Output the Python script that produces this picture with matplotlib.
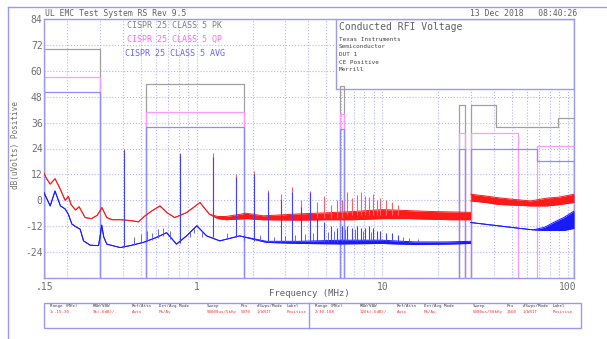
import matplotlib
matplotlib.use('Agg')
import matplotlib.pyplot as plt
from matplotlib.patches import Rectangle
from matplotlib.lines import Line2D
from matplotlib.ticker import FixedLocator, NullFormatter

plt.rcParams['font.family'] = 'DejaVu Sans Mono'

# ---- trace data (MHz, dBuV) ----
# range 1 (.15-30 MHz) peak trace, lower / upper edge of the noise band
pk1_f = [0.15, 0.155, 0.162, 0.172, 0.184, 0.195, 0.203, 0.21, 0.222, 0.232, 0.25, 0.27,
         0.29, 0.308, 0.327, 0.35, 0.39, 0.45, 0.484, 0.52, 0.57, 0.633, 0.69, 0.76, 0.88,
         0.97, 1.04, 1.17, 1.3, 1.44, 1.85, 2.28, 3.58, 5.0, 7.0, 10.0, 14.0, 18.5, 24.0, 29.9]
pk1_lo = [12.5, 10, 7.5, 10, 5, 0, 1.8, -2, -4.5, -3, -8, -8.5,
          -7, -3.4, -8, -9, -9, -9.5, -10, -7.5, -5, -2.6, -5.7, -8, -5.7,
          -3, -1, -6.5, -8.5, -9, -8.5, -9, -9.2, -9, -9, -8.5, -8.5, -8.8, -9, -9]
pk1_hi = [12.5, 10, 7.5, 10, 5, 0, 1.8, -2, -4.5, -3, -8, -8.5,
          -7, -3.4, -8, -9, -9, -9.5, -10, -7.5, -5, -2.6, -5.7, -8, -5.7,
          -3, -1, -6.5, -7.5, -7.5, -6, -7.2, -6.3, -5.8, -5.2, -4.3, -4.8, -5.2, -5.4, -5.6]

# range 1 average trace
av1_f = [0.15, 0.162, 0.172, 0.184, 0.195, 0.203, 0.212, 0.225, 0.235, 0.245, 0.266, 0.295,
         0.302, 0.307, 0.315, 0.327, 0.386, 0.437, 0.515, 0.607, 0.687, 0.777, 0.88, 1.0,
         1.13, 1.33, 1.7, 2.37, 3.58, 6.0, 10.0, 15.0, 22.0, 29.9]
av1_lo = [3.5, -2.6, 4.3, -2.6, -4, -6.5, -11, -12.5, -13.4, -18.8, -20.8, -21,
          -16, -11.5, -17, -20.3, -21.9, -21, -19.5, -17.2, -15, -20.3, -16.5, -11.8,
          -16.5, -18.8, -16.5, -19.5, -20, -20.2, -20, -20.5, -20.3, -20]
av1_hi = [3.5, -2.6, 4.3, -2.6, -4, -6.5, -11, -12.5, -13.4, -18.8, -20.8, -21,
          -16, -11.5, -17, -20.3, -21.9, -21, -19.5, -17.2, -15, -20.3, -16.5, -11.8,
          -16.5, -18.8, -16.5, -19, -19, -18.5, -18.5, -19.3, -19.3, -19]

# range 2 (30-108 MHz)
pk2_f = [30, 36, 42, 50, 63, 77, 90, 108]
pk2_lo = [-0.3, -1, -1.9, -2.2, -2.6, -2.6, -2, -1]
pk2_hi = [2.8, 2, 1.2, 0.5, -0.3, 1.0, 1.5, 2.8]
av2_f = [30, 42, 55, 65, 75, 85, 95, 108]
av2_lo = [-10.3, -11.8, -13, -13.7, -14, -14, -14, -13]
av2_hi = [-10.3, -11.8, -13, -13.7, -12.5, -10, -8, -5]

# harmonic spikes: frequency, peak top / base, average top / base
spk_f = [0.405, 0.81, 1.215, 1.62, 2.025, 2.43, 2.835, 3.24, 3.645, 4.05, 4.455, 4.86,
         5.265, 5.67, 6.075, 6.48, 6.885, 7.29, 7.695, 8.1, 8.505, 8.91, 9.315, 9.72,
         10.5, 11.3, 12.1]
spk_pk_top = [24, 22, 21.7, 12, 13.5, 5, 3, 6, 0, 4.5, -1, 2,
              -2, 0, 0, 4, 1, 2.5, 4, 2, 1.5, 3, 0, 1, 0, -1, -2]
spk_pk_base = [-9, -8, -7, -8, -8, -8, -8, -8, -8, -8, -8, -8,
               -8, -8, -8, -7, -7, -7, -7, -7, -7, -7, -7, -7, -7, -7, -7]
spk_av_top = [23.5, 21.5, 20, 11, 12, 4, 0, 4, -3, 4, -8, -10,
              -12, -13, -12, -12, -13, -12, -13, -13, -12, -13, -14, -14, -15, -15, -16]
spk_av_base = [-21.5, -20, -17, -17, -19, -19.5, -19.5, -19.5, -19.5, -19.5, -19.5, -19.5,
               -19.5, -19.5, -19.5, -19, -19, -19, -19, -19, -19, -19, -19, -19, -19, -19, -19]

# small ripple spikes on the average trace
rip_f = [0.46, 0.5, 0.54, 0.57, 0.62, 0.66, 0.72, 0.92, 0.96, 1.07, 1.45, 1.8, 2.2,
         2.6, 3.0, 3.4, 3.85, 4.25, 5.1, 5.5, 6.3, 7.1, 7.9, 8.7, 13.0, 14.0, 15.5]
rip_top = [-17, -15.5, -14, -15, -13.5, -13, -14, -14.5, -13.5, -14, -15, -16, -16,
           -17, -16.5, -16, -15.5, -15, -14.5, -14, -13.5, -13.5, -14, -14.5, -17, -17.5, -18]
rip_base = [-20.5, -19.5, -19, -18.5, -17.5, -16.5, -18, -17, -15, -17, -17.5, -18.5, -19,
            -19.5, -19.5, -19.5, -19.5, -19.5, -19.5, -19.5, -19, -19, -19, -19, -19.3, -19.3, -19.3]

# CISPR 25 class 5 limits: start MHz, stop MHz, level
pk_start = [0.15, 0.53, 5.9, 26, 30, 41, 88]
pk_stop = [0.3, 1.8, 6.2, 28, 41, 88, 108]
pk_level = [70, 54, 53, 44, 44, 34, 38]
qp_start = [0.15, 0.53, 5.9, 26, 30, 68]
qp_stop = [0.3, 1.8, 6.2, 28, 54, 108]
qp_level = [57, 41, 40, 31, 31, 25]
av_start = [0.15, 0.53, 5.9, 26, 30, 68]
av_stop = [0.3, 1.8, 6.2, 28, 68, 108]
av_level = [50, 34, 33, 24, 24, 18]

y_ticks = [-36, -24, -12, 0, 12, 24, 36, 48, 60, 72, 84]
y_labels = ['', '-24', '-12', '0', '12', '24', '36', '48', '60', '72', '84']
x_ticks = [0.15, 1, 10, 100]
x_labels = ['.15', '1', '10', '100']

W, H = 607, 339
fig = plt.figure(figsize=(W / 100, H / 100), dpi=100)
ax = fig.add_axes([44 / W, 1 - 278 / H, 530 / W, 259 / H])
ax.set_xscale('log')
ax.set_xlim(0.15, 108)
ax.set_ylim(-36, 84)

frame = '#9a9af0'
grid = '#b4b4ff'
for s in ax.spines.values():
    s.set_color(frame)
    s.set_linewidth(1.0)

ax.yaxis.set_major_locator(FixedLocator(y_ticks))
ax.set_yticklabels(y_labels)
ax.xaxis.set_major_locator(FixedLocator(x_ticks))
ax.set_xticklabels(x_labels)
minor = [m * d for d in (0.1, 1, 10) for m in range(2, 10) if 0.15 < m * d < 108]
ax.xaxis.set_minor_locator(FixedLocator(minor))
ax.xaxis.set_minor_formatter(NullFormatter())
ax.tick_params(which='both', length=0, labelsize=7, labelcolor='#707070')
ax.tick_params(axis='y', pad=1)
ax.tick_params(axis='x', pad=3)
ax.grid(True, which='both', axis='x', color=grid, linestyle=':', linewidth=0.8)
ax.grid(True, which='major', axis='y', color=grid, linestyle=':', linewidth=0.8)
ax.set_axisbelow(True)

# info box over the upper right of the plot
ax.add_patch(Rectangle((0.551, 0.730), 0.449, 0.270, transform=ax.transAxes,
                       facecolor='white', edgecolor=frame, lw=1.0, zorder=1))


def draw_limit(start, stop, level, color):
    floor = ax.get_ylim()[0]
    xs, ys = [], []
    for f0, f1, lv in zip(start, stop, level):
        if xs and xs[-1] == f0:
            xs += [f0, f1]
            ys += [lv, lv]
        else:
            if xs:
                xs.append(xs[-1])
                ys.append(floor)
                ax.plot(xs, ys, color=color, lw=0.9, zorder=2)
            xs, ys = [f0, f0, f1], [floor, lv, lv]
    xs.append(xs[-1])
    ys.append(floor)
    ax.plot(xs, ys, color=color, lw=0.9, zorder=2)


draw_limit(pk_start, pk_stop, pk_level, '#a0a0a0')
draw_limit(qp_start, qp_stop, qp_level, '#ff99ff')
draw_limit(av_start, av_stop, av_level, '#8c8cff')

red = '#ff1a1a'
blue = '#1a1aff'
for f, lo, hi in [(pk1_f, pk1_lo, pk1_hi), (pk2_f, pk2_lo, pk2_hi)]:
    ax.fill_between(f, lo, hi, color=red, lw=0, zorder=3)
    ax.plot(f, lo, color=red, lw=0.7, zorder=3)
    ax.plot(f, hi, color=red, lw=0.7, zorder=3)
ax.vlines(spk_f, spk_pk_base, spk_pk_top, color='#ff6060', lw=0.8, zorder=3)
for f, lo, hi in [(av1_f, av1_lo, av1_hi), (av2_f, av2_lo, av2_hi)]:
    ax.fill_between(f, lo, hi, color=blue, lw=0, zorder=4)
    ax.plot(f, lo, color=blue, lw=0.7, zorder=4)
    ax.plot(f, hi, color=blue, lw=0.7, zorder=4)
ax.vlines(spk_f, spk_av_base, spk_av_top, color='#4040ff', lw=0.8, zorder=4)
ax.vlines(rip_f, rip_base, rip_top, color='#5050ff', lw=0.6, zorder=4)


def px(x, y):
    return x / W, 1 - y / H


# outer frame
fig.add_artist(Line2D([8 / W, 8 / W], [1 - 7 / H, 0], color=frame, lw=1.0))
fig.add_artist(Line2D([8 / W, 1], [1 - 7 / H, 1 - 7 / H], color=frame, lw=1.0))

txt = '#606060'
fig.text(*px(45, 13), 'UL EMC Test System RS Rev 9.5', fontsize=5.8, color=txt, va='center')
fig.text(*px(470, 13), '13 Dec 2018   08:40:26', fontsize=5.8, color=txt, va='center')
fig.text(*px(127, 26), 'CISPR 25 CLASS 5 PK', fontsize=6, color='#808080', va='center', zorder=5)
fig.text(*px(127, 39), 'CISPR 25 CLASS 5 QP', fontsize=6, color='#ff66ff', va='center', zorder=5)
fig.text(*px(125, 53), 'CISPR 25 CLASS 5 AVG', fontsize=6, color='#6666ff', va='center', zorder=5)
fig.text(*px(339, 27), 'Conducted RFI Voltage', fontsize=7, color=txt, va='center', zorder=5)
for i, line in enumerate(['Texas Instruments', 'Semiconductor', 'DUT 1', 'CE Positive', 'Merrill']):
    fig.text(*px(339, 39.5 + i * 7.5), line, fontsize=4.3, color='#404040', va='center', zorder=5)
fig.text(*px(16, 145), 'dB(uVolts) Positive', fontsize=5.5, color='#707070', rotation=90,
         ha='center', va='center')
fig.text(*px(309, 293), 'Frequency (MHz)', fontsize=6.5, color=txt, ha='center', va='center')

# sweep settings table
fig.add_artist(Rectangle(px(44, 328), 537 / W, 25 / H, fill=False, edgecolor=frame, lw=1.0))
fig.add_artist(Line2D([309 / W, 309 / W], [1 - 303 / H, 1 - 328 / H], color=frame, lw=1.0))
headers = ['Range (MHz)', 'RBW/VBW', 'Ref/Attn', 'Det/Avg Mode', 'Sweep', 'Pts', '#Swps/Mode', 'Label']
range1 = ['1:.15-30', '9k(-6dB)/-', 'Auto', 'Pk/Av', '50000us/5kHz', '5970', '1/WRIT', 'Positive']
range2 = ['2:30-108', '120k(-6dB)/-', 'Auto', 'Pk/Av', '5000us/50kHz', '1560', '1/WRIT', 'Positive']
cols1 = [50, 93, 132, 159, 207, 241, 257, 287]
cols2 = [315, 360, 397, 424, 473, 507, 523, 553]
for cols, vals in [(cols1, range1), (cols2, range2)]:
    for x, h, v in zip(cols, headers, vals):
        fig.text(*px(x, 306), h, fontsize=3, color='#404040', va='center')
        fig.text(*px(x, 312), v, fontsize=3, color='#ff3030', va='center')

fig.savefig('out.png', dpi=100)
